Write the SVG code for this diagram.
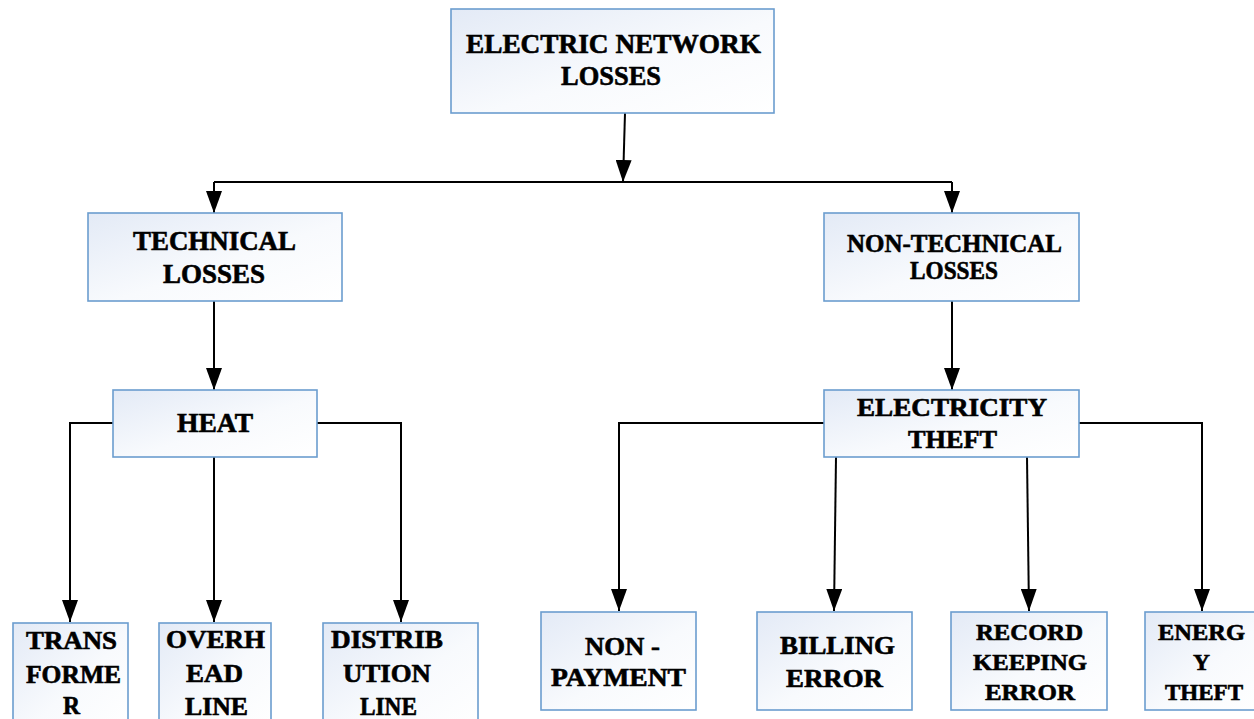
<svg xmlns="http://www.w3.org/2000/svg" width="1254" height="719" viewBox="0 0 1254 719" font-family="'Liberation Serif', 'Times New Roman', Tinos, serif">
<defs>
<linearGradient id="bg" x1="0" y1="0" x2="1" y2="1">
<stop offset="0" stop-color="#e3eaf6"/>
<stop offset="0.55" stop-color="#f8fafd"/>
<stop offset="1" stop-color="#ffffff"/>
</linearGradient>
<marker id="ah" markerUnits="userSpaceOnUse" markerWidth="22" markerHeight="16" refX="22" refY="8" orient="auto" viewBox="0 0 22 16">
<path d="M0,0 L22,8 L0,16 z" fill="#000"/>
</marker>
<style>
.box{fill:url(#bg);stroke:#6b9dcf;stroke-width:1.6}
text{font-family:'Liberation Serif','Times New Roman',Tinos,serif;font-weight:700;fill:#000;stroke:#000;stroke-width:0.6;text-anchor:middle}
.l{font-size:27px}
.m{font-size:25px}
.s{font-size:23px}
.c{fill:none;stroke:#000;stroke-width:2}
</style>
</defs>
<rect width="1254" height="719" fill="#fff"/>
<g id="connectors">
<path class="c" d="M625,113 L623,182" marker-end="url(#ah)"/>
<path class="c" d="M214,182 L952,182"/>
<path class="c" d="M214,182 L214,213" marker-end="url(#ah)"/>
<path class="c" d="M952,182 L952,213" marker-end="url(#ah)"/>
<path class="c" d="M214,301 L214,390" marker-end="url(#ah)"/>
<path class="c" d="M113,423 L70,423 L70,622" marker-end="url(#ah)"/>
<path class="c" d="M214,457 L214,622" marker-end="url(#ah)"/>
<path class="c" d="M317,423 L401,423 L401,622" marker-end="url(#ah)"/>
<path class="c" d="M952,301 L952,390" marker-end="url(#ah)"/>
<path class="c" d="M824,423 L619,423 L619,611" marker-end="url(#ah)"/>
<path class="c" d="M1079,423 L1202,423 L1202,611" marker-end="url(#ah)"/>
<path class="c" d="M836,457 L834,611" marker-end="url(#ah)"/>
<path class="c" d="M1027,457 L1029,611" marker-end="url(#ah)"/>
</g>
<g id="n-root">
<rect class="box" x="451" y="9" width="323" height="104"/>
<text class="l" x="613.5" y="53" textLength="295" lengthAdjust="spacingAndGlyphs">ELECTRIC NETWORK</text>
<text class="l" x="611" y="85" textLength="100" lengthAdjust="spacingAndGlyphs">LOSSES</text>
</g>
<g id="n-technical">
<rect class="box" x="88" y="213" width="254" height="88"/>
<text class="l" x="214.5" y="250" textLength="163" lengthAdjust="spacingAndGlyphs">TECHNICAL</text>
<text class="l" x="214" y="283" textLength="102" lengthAdjust="spacingAndGlyphs">LOSSES</text>
</g>
<g id="n-nontechnical">
<rect class="box" x="824" y="213" width="255" height="88"/>
<text class="m" x="954.5" y="252" textLength="215" lengthAdjust="spacingAndGlyphs">NON-TECHNICAL</text>
<text class="m" x="954" y="279" textLength="88" lengthAdjust="spacingAndGlyphs">LOSSES</text>
</g>
<g id="n-heat">
<rect class="box" x="113" y="390" width="204" height="67"/>
<text class="l" x="215" y="432" textLength="76" lengthAdjust="spacingAndGlyphs">HEAT</text>
</g>
<g id="n-theft">
<rect class="box" x="824" y="390" width="255" height="67"/>
<text class="m" x="952" y="416" textLength="190" lengthAdjust="spacingAndGlyphs">ELECTRICITY</text>
<text class="m" x="952.5" y="448" textLength="89" lengthAdjust="spacingAndGlyphs">THEFT</text>
</g>
<g id="n-transformer">
<rect class="box" x="13" y="623" width="115" height="110"/>
<text class="m" x="71.5" y="649" textLength="91" lengthAdjust="spacingAndGlyphs">TRANS</text>
<text class="m" x="73.5" y="683" textLength="95" lengthAdjust="spacingAndGlyphs">FORME</text>
<text class="m" x="71.5" y="714" textLength="17" lengthAdjust="spacingAndGlyphs">R</text>
</g>
<g id="n-overhead">
<rect class="box" x="159" y="623" width="112" height="110"/>
<text class="m" x="215.5" y="648" textLength="99" lengthAdjust="spacingAndGlyphs">OVERH</text>
<text class="m" x="214.5" y="682" textLength="57" lengthAdjust="spacingAndGlyphs">EAD</text>
<text class="m" x="216.5" y="715" textLength="63" lengthAdjust="spacingAndGlyphs">LINE</text>
</g>
<g id="n-distribution">
<rect class="box" x="323" y="623" width="155" height="110"/>
<text class="m" x="387" y="648" textLength="112" lengthAdjust="spacingAndGlyphs">DISTRIB</text>
<text class="m" x="387" y="682" textLength="88" lengthAdjust="spacingAndGlyphs">UTION</text>
<text class="m" x="388.5" y="715" textLength="57" lengthAdjust="spacingAndGlyphs">LINE</text>
</g>
<g id="n-nonpayment">
<rect class="box" x="541" y="612" width="155" height="98"/>
<text class="m" x="622.5" y="655" textLength="75" lengthAdjust="spacingAndGlyphs">NON -</text>
<text class="m" x="618.5" y="686" textLength="135" lengthAdjust="spacingAndGlyphs">PAYMENT</text>
</g>
<g id="n-billing">
<rect class="box" x="757" y="612" width="155" height="98"/>
<text class="m" x="837.5" y="654" textLength="115" lengthAdjust="spacingAndGlyphs">BILLING</text>
<text class="m" x="834.5" y="687" textLength="97" lengthAdjust="spacingAndGlyphs">ERROR</text>
</g>
<g id="n-record">
<rect class="box" x="951" y="612" width="156" height="98"/>
<text class="s" x="1029.5" y="640" textLength="107" lengthAdjust="spacingAndGlyphs">RECORD</text>
<text class="s" x="1030" y="670" textLength="114" lengthAdjust="spacingAndGlyphs">KEEPING</text>
<text class="s" x="1030" y="700" textLength="90" lengthAdjust="spacingAndGlyphs">ERROR</text>
</g>
<g id="n-energy">
<rect class="box" x="1145" y="612" width="120" height="98"/>
<text class="s" x="1201.5" y="640" textLength="87" lengthAdjust="spacingAndGlyphs">ENERG</text>
<text class="s" x="1201.5" y="670" textLength="17" lengthAdjust="spacingAndGlyphs">Y</text>
<text class="s" x="1204" y="700" textLength="78" lengthAdjust="spacingAndGlyphs">THEFT</text>
</g>
</svg>
